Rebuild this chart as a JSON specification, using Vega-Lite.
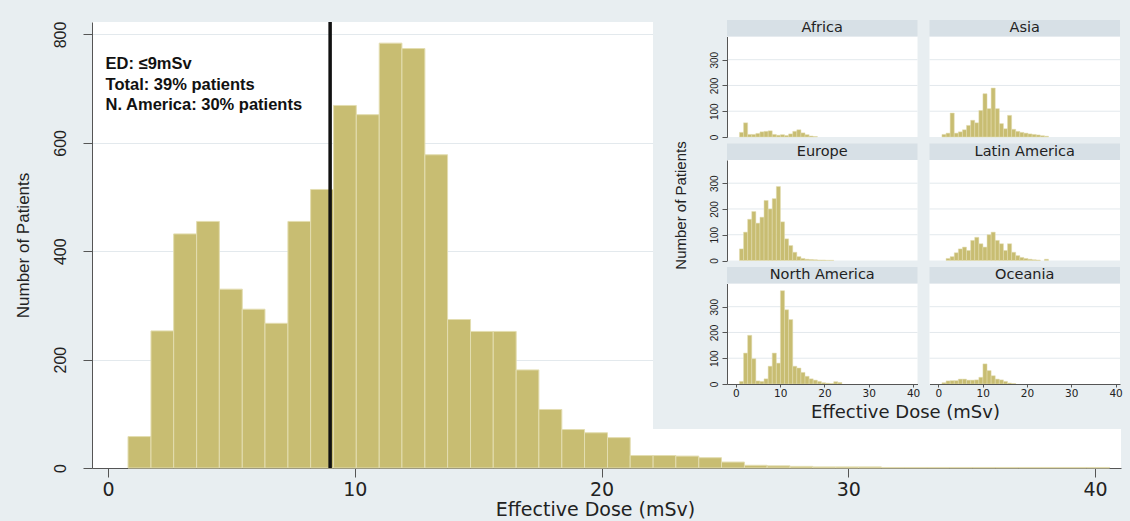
{
  "$schema": "https://vega.github.io/schema/vega-lite/v6.json",
  "width": 1029,
  "height": 446,
  "autosize": {"type": "none"},
  "padding": {"left": 92, "top": 22, "right": 9, "bottom": 53},
  "background": "#e8eef1",
  "config": {
    "view": {"fill": "white", "stroke": null},
    "axis": {"labelFlush": false, "labelOverlap": false, "labelBound": false, "titleFontWeight": "normal", "domainColor": "#555", "tickColor": "#555", "labelColor": "#222", "titleColor": "#222", "gridColor": "#e3e9ed"}
  },
  "datasets": {
    "total": [
      {"lo":0.81,"hi":1.74,"n":58},{"lo":1.74,"hi":2.66,"n":253},{"lo":2.66,"hi":3.59,"n":432},{"lo":3.59,"hi":4.51,"n":455},
      {"lo":4.51,"hi":5.44,"n":330},{"lo":5.44,"hi":6.36,"n":293},{"lo":6.36,"hi":7.29,"n":267},{"lo":7.29,"hi":8.21,"n":455},
      {"lo":8.21,"hi":9.14,"n":514},{"lo":9.14,"hi":10.06,"n":669},{"lo":10.06,"hi":10.99,"n":652},{"lo":10.99,"hi":11.91,"n":784},
      {"lo":11.91,"hi":12.84,"n":774},{"lo":12.84,"hi":13.76,"n":578},{"lo":13.76,"hi":14.69,"n":274},{"lo":14.69,"hi":15.61,"n":252},
      {"lo":15.61,"hi":16.54,"n":252},{"lo":16.54,"hi":17.46,"n":181},{"lo":17.46,"hi":18.39,"n":108},{"lo":18.39,"hi":19.31,"n":71},
      {"lo":19.31,"hi":20.24,"n":65},{"lo":20.24,"hi":21.16,"n":56},{"lo":21.16,"hi":22.09,"n":23},{"lo":22.09,"hi":23.01,"n":23},
      {"lo":23.01,"hi":23.94,"n":22},{"lo":23.94,"hi":24.86,"n":19},{"lo":24.86,"hi":25.79,"n":11},{"lo":25.79,"hi":26.71,"n":5},
      {"lo":26.71,"hi":27.64,"n":4},{"lo":27.64,"hi":28.56,"n":3},{"lo":28.56,"hi":29.49,"n":2},{"lo":29.49,"hi":30.41,"n":2},
      {"lo":30.41,"hi":31.34,"n":2},{"lo":31.34,"hi":32.26,"n":1},{"lo":32.26,"hi":33.19,"n":1},{"lo":33.19,"hi":34.11,"n":1},
      {"lo":34.11,"hi":35.04,"n":1},{"lo":35.04,"hi":35.96,"n":1},{"lo":35.96,"hi":36.89,"n":1},{"lo":36.89,"hi":37.81,"n":1},
      {"lo":37.81,"hi":38.74,"n":1},{"lo":38.74,"hi":39.66,"n":1},{"lo":39.66,"hi":40.59,"n":1}
    ],
    "grid": [{"g": 100}, {"g": 200}, {"g": 300}],
    "regions": [
      {"region":"Africa","lo":0.81,"hi":1.74,"n":18},{"region":"Africa","lo":1.74,"hi":2.66,"n":55},{"region":"Africa","lo":2.66,"hi":3.59,"n":10},
      {"region":"Africa","lo":3.59,"hi":4.51,"n":10},{"region":"Africa","lo":4.51,"hi":5.44,"n":14},{"region":"Africa","lo":5.44,"hi":6.36,"n":20},
      {"region":"Africa","lo":6.36,"hi":7.29,"n":22},{"region":"Africa","lo":7.29,"hi":8.21,"n":24},{"region":"Africa","lo":8.21,"hi":9.14,"n":10},
      {"region":"Africa","lo":9.14,"hi":10.06,"n":7},{"region":"Africa","lo":10.06,"hi":10.99,"n":9},{"region":"Africa","lo":10.99,"hi":11.91,"n":6},
      {"region":"Africa","lo":11.91,"hi":12.84,"n":12},{"region":"Africa","lo":12.84,"hi":13.76,"n":22},{"region":"Africa","lo":13.76,"hi":14.69,"n":28},
      {"region":"Africa","lo":14.69,"hi":15.61,"n":16},{"region":"Africa","lo":15.61,"hi":16.54,"n":9},{"region":"Africa","lo":16.54,"hi":17.46,"n":4},
      {"region":"Africa","lo":17.46,"hi":18.39,"n":2},

      {"region":"Asia","lo":0.81,"hi":1.74,"n":10},{"region":"Asia","lo":1.74,"hi":2.66,"n":15},{"region":"Asia","lo":2.66,"hi":3.59,"n":93},
      {"region":"Asia","lo":3.59,"hi":4.51,"n":15},{"region":"Asia","lo":4.51,"hi":5.44,"n":20},{"region":"Asia","lo":5.44,"hi":6.36,"n":28},
      {"region":"Asia","lo":6.36,"hi":7.29,"n":45},{"region":"Asia","lo":7.29,"hi":8.21,"n":65},{"region":"Asia","lo":8.21,"hi":9.14,"n":55},
      {"region":"Asia","lo":9.14,"hi":10.06,"n":103},{"region":"Asia","lo":10.06,"hi":10.99,"n":168},{"region":"Asia","lo":10.99,"hi":11.91,"n":110},
      {"region":"Asia","lo":11.91,"hi":12.84,"n":190},{"region":"Asia","lo":12.84,"hi":13.76,"n":110},{"region":"Asia","lo":13.76,"hi":14.69,"n":52},
      {"region":"Asia","lo":14.69,"hi":15.61,"n":32},{"region":"Asia","lo":15.61,"hi":16.54,"n":84},{"region":"Asia","lo":16.54,"hi":17.46,"n":30},
      {"region":"Asia","lo":17.46,"hi":18.39,"n":22},{"region":"Asia","lo":18.39,"hi":19.31,"n":18},{"region":"Asia","lo":19.31,"hi":20.24,"n":15},
      {"region":"Asia","lo":20.24,"hi":21.16,"n":12},{"region":"Asia","lo":21.16,"hi":22.09,"n":10},{"region":"Asia","lo":22.09,"hi":23.01,"n":8},
      {"region":"Asia","lo":23.01,"hi":23.94,"n":5},{"region":"Asia","lo":23.94,"hi":24.86,"n":3},

      {"region":"Europe","lo":0.81,"hi":1.74,"n":45},{"region":"Europe","lo":1.74,"hi":2.66,"n":110},{"region":"Europe","lo":2.66,"hi":3.59,"n":160},
      {"region":"Europe","lo":3.59,"hi":4.51,"n":190},{"region":"Europe","lo":4.51,"hi":5.44,"n":145},{"region":"Europe","lo":5.44,"hi":6.36,"n":168},
      {"region":"Europe","lo":6.36,"hi":7.29,"n":233},{"region":"Europe","lo":7.29,"hi":8.21,"n":200},{"region":"Europe","lo":8.21,"hi":9.14,"n":240},
      {"region":"Europe","lo":9.14,"hi":10.06,"n":287},{"region":"Europe","lo":10.06,"hi":10.99,"n":150},{"region":"Europe","lo":10.99,"hi":11.91,"n":84},
      {"region":"Europe","lo":11.91,"hi":12.84,"n":58},{"region":"Europe","lo":12.84,"hi":13.76,"n":32},{"region":"Europe","lo":13.76,"hi":14.69,"n":15},
      {"region":"Europe","lo":14.69,"hi":15.61,"n":8},{"region":"Europe","lo":15.61,"hi":16.54,"n":5},{"region":"Europe","lo":16.54,"hi":17.46,"n":4},
      {"region":"Europe","lo":17.46,"hi":18.39,"n":3},{"region":"Europe","lo":18.39,"hi":19.31,"n":2},{"region":"Europe","lo":19.31,"hi":20.24,"n":2},
      {"region":"Europe","lo":20.24,"hi":21.16,"n":1},{"region":"Europe","lo":21.16,"hi":22.09,"n":1},

      {"region":"Latin America","lo":1.74,"hi":2.66,"n":8},{"region":"Latin America","lo":2.66,"hi":3.59,"n":15},{"region":"Latin America","lo":3.59,"hi":4.51,"n":30},
      {"region":"Latin America","lo":4.51,"hi":5.44,"n":45},{"region":"Latin America","lo":5.44,"hi":6.36,"n":52},{"region":"Latin America","lo":6.36,"hi":7.29,"n":39},
      {"region":"Latin America","lo":7.29,"hi":8.21,"n":78},{"region":"Latin America","lo":8.21,"hi":9.14,"n":90},{"region":"Latin America","lo":9.14,"hi":10.06,"n":65},
      {"region":"Latin America","lo":10.06,"hi":10.99,"n":52},{"region":"Latin America","lo":10.99,"hi":11.91,"n":100},{"region":"Latin America","lo":11.91,"hi":12.84,"n":110},
      {"region":"Latin America","lo":12.84,"hi":13.76,"n":78},{"region":"Latin America","lo":13.76,"hi":14.69,"n":65},{"region":"Latin America","lo":14.69,"hi":15.61,"n":39},
      {"region":"Latin America","lo":15.61,"hi":16.54,"n":65},{"region":"Latin America","lo":16.54,"hi":17.46,"n":32},{"region":"Latin America","lo":17.46,"hi":18.39,"n":19},
      {"region":"Latin America","lo":18.39,"hi":19.31,"n":12},{"region":"Latin America","lo":19.31,"hi":20.24,"n":8},{"region":"Latin America","lo":20.24,"hi":21.16,"n":5},
      {"region":"Latin America","lo":21.16,"hi":22.09,"n":3},{"region":"Latin America","lo":22.09,"hi":23.01,"n":2},{"region":"Latin America","lo":23.94,"hi":24.86,"n":5},

      {"region":"North America","lo":0.81,"hi":1.74,"n":10},{"region":"North America","lo":1.74,"hi":2.66,"n":120},{"region":"North America","lo":2.66,"hi":3.59,"n":189},
      {"region":"North America","lo":3.59,"hi":4.51,"n":98},{"region":"North America","lo":4.51,"hi":5.44,"n":12},{"region":"North America","lo":5.44,"hi":6.36,"n":10},
      {"region":"North America","lo":6.36,"hi":7.29,"n":20},{"region":"North America","lo":7.29,"hi":8.21,"n":69},{"region":"North America","lo":8.21,"hi":9.14,"n":120},
      {"region":"North America","lo":9.14,"hi":10.06,"n":81},{"region":"North America","lo":10.06,"hi":10.99,"n":362},{"region":"North America","lo":10.99,"hi":11.91,"n":288},
      {"region":"North America","lo":11.91,"hi":12.84,"n":250},{"region":"North America","lo":12.84,"hi":13.76,"n":69},{"region":"North America","lo":13.76,"hi":14.69,"n":62},
      {"region":"North America","lo":14.69,"hi":15.61,"n":45},{"region":"North America","lo":15.61,"hi":16.54,"n":30},{"region":"North America","lo":16.54,"hi":17.46,"n":20},
      {"region":"North America","lo":17.46,"hi":18.39,"n":15},{"region":"North America","lo":18.39,"hi":19.31,"n":10},{"region":"North America","lo":19.31,"hi":20.24,"n":5},
      {"region":"North America","lo":20.24,"hi":21.16,"n":3},{"region":"North America","lo":21.16,"hi":22.09,"n":2},{"region":"North America","lo":22.09,"hi":23.01,"n":9},
      {"region":"North America","lo":23.01,"hi":23.94,"n":6},

      {"region":"Oceania","lo":0.81,"hi":1.74,"n":5},{"region":"Oceania","lo":1.74,"hi":2.66,"n":12},{"region":"Oceania","lo":2.66,"hi":3.59,"n":13},
      {"region":"Oceania","lo":3.59,"hi":4.51,"n":13},{"region":"Oceania","lo":4.51,"hi":5.44,"n":19},{"region":"Oceania","lo":5.44,"hi":6.36,"n":19},
      {"region":"Oceania","lo":6.36,"hi":7.29,"n":15},{"region":"Oceania","lo":7.29,"hi":8.21,"n":15},{"region":"Oceania","lo":8.21,"hi":9.14,"n":16},
      {"region":"Oceania","lo":9.14,"hi":10.06,"n":26},{"region":"Oceania","lo":10.06,"hi":10.99,"n":78},{"region":"Oceania","lo":10.99,"hi":11.91,"n":52},
      {"region":"Oceania","lo":11.91,"hi":12.84,"n":32},{"region":"Oceania","lo":12.84,"hi":13.76,"n":19},{"region":"Oceania","lo":13.76,"hi":14.69,"n":16},
      {"region":"Oceania","lo":14.69,"hi":15.61,"n":10},{"region":"Oceania","lo":15.61,"hi":16.54,"n":4},{"region":"Oceania","lo":16.54,"hi":17.46,"n":2}
    ]
  },
  "resolve": {"scale": {"x": "independent", "y": "independent"}, "axis": {"x": "independent", "y": "independent"}},
  "layer": [
    {
      "layer": [
        {
          "data": {"name": "total"},
          "mark": {"type": "rect", "fill": "#c8bd72", "stroke": "#e3ddb0", "strokeWidth": 1},
          "encoding": {
            "x": {"field": "lo", "type": "quantitative", "scale": {"domain": [-0.65, 41.05], "nice": false, "zero": false},
                  "axis": {"orient": "bottom", "values": [0, 10, 20, 30, 40], "grid": false, "tickSize": 9, "labelFont": "DejaVu Sans", "labelFontSize": 19, "labelPadding": 3, "title": "Effective Dose (mSv)", "titleFont": "DejaVu Sans", "titleFontSize": 19, "titlePadding": 1, "titleX": 503, "titleAlign": "center"}},
            "x2": {"field": "hi"},
            "y": {"field": "n", "type": "quantitative", "scale": {"domain": [0, 823], "nice": false, "zero": false},
                  "axis": {"orient": "left", "values": [0, 200, 400, 600, 800], "grid": true, "tickSize": 9, "labelAngle": 270, "labelAlign": "center", "labelBaseline": "bottom", "labelFont": "Liberation Sans", "labelFontSize": 16, "labelPadding": 15, "title": "Number of Patients", "titleFont": "Liberation Sans", "titleFontSize": 17, "titlePadding": 20}},
            "y2": {"datum": 0}
          }
        },
        {
          "data": {"values": [{}]},
          "mark": {"type": "rule", "color": "#111", "strokeWidth": 3.5},
          "encoding": {"x": {"datum": 9, "type": "quantitative"}}
        },
        {
          "data": {"values": [{}]},
          "mark": {"type": "text", "text": ["ED: ≤9mSv", "Total: 39% patients", "N. America: 30% patients"], "align": "left", "baseline": "top", "font": "Liberation Sans", "fontSize": 16.5, "fontWeight": "bold", "lineHeight": 20.5, "color": "#111"},
          "encoding": {"x": {"datum": -0.1, "type": "quantitative"}, "y": {"datum": 760, "type": "quantitative"}}
        }
      ]
    },
    {
      "data": {"values": [{}]},
      "mark": {"type": "rect", "fill": "#e8eef1"},
      "encoding": {
        "x": {"datum": 0, "type": "quantitative", "scale": {"domain": [0, 1], "range": [561, 1038], "nice": false, "zero": false}, "axis": null},
        "x2": {"datum": 1},
        "y": {"datum": 0, "type": "quantitative", "scale": {"domain": [0, 1], "range": [407, -15], "nice": false, "zero": false}, "axis": null},
        "y2": {"datum": 1}
      }
    },
    {
      "data": {"values": []},
      "mark": {"type": "point", "opacity": 0},
      "encoding": {
        "x": {"field": "v", "type": "quantitative", "scale": {"domain": [0, 1], "range": [600, 1026], "nice": false, "zero": false},
              "axis": {"orient": "bottom", "offset": -84, "labels": false, "ticks": false, "domain": false, "grid": false, "minExtent": 0, "maxExtent": 0, "title": "Effective Dose (mSv)", "titleFont": "DejaVu Sans", "titleFontSize": 18, "titlePadding": 19, "zindex": 1}},
        "y": {"field": "v", "type": "quantitative", "scale": {"domain": [0, 1], "range": [362, 4], "nice": false, "zero": false},
              "axis": {"orient": "left", "offset": -635, "labels": false, "ticks": false, "domain": false, "grid": false, "minExtent": 0, "maxExtent": 0, "title": "Number of Patients", "titleFont": "Liberation Sans", "titleFontSize": 15, "titlePadding": 39, "zindex": 1}}
      }
    },
    {
      "layer": [
        {"data": {"values": [{}]}, "mark": {"type": "rect", "fill": "white"},
         "encoding": {
           "x": {"datum": -2, "type": "quantitative", "scale": {"domain": [-2, 41], "range": [635, 825.5], "nice": false, "zero": false}, "axis": null},
           "x2": {"datum": 41},
           "y": {"datum": 0, "type": "quantitative", "scale": {"domain": [0, 390], "range": [115, 14.5], "nice": false, "zero": false}, "axis": null},
           "y2": {"datum": 390}}},
        {"data": {"name": "grid"}, "mark": {"type": "rule", "color": "#e3e9ed", "strokeWidth": 1},
         "encoding": {"x": {"datum": -2, "type": "quantitative", "axis": null}, "x2": {"datum": 41}, "y": {"field": "g", "type": "quantitative", "axis": null}}},
        {"data": {"values": [{}]}, "mark": {"type": "rect", "fill": "#d7e0e6"},
         "encoding": {"x": {"datum": -2, "type": "quantitative", "axis": null}, "x2": {"datum": 41}, "y": {"datum": 390, "type": "quantitative", "axis": null}, "y2": {"datum": 454}}},
        {"data": {"values": [{}]}, "mark": {"type": "text", "text": "Africa", "font": "DejaVu Sans", "fontSize": 14.5, "color": "#222", "align": "center", "baseline": "middle"},
         "encoding": {"x": {"datum": 19.5, "type": "quantitative", "axis": null}, "y": {"datum": 422, "type": "quantitative", "axis": null}}},
        {"data": {"name": "regions"}, "transform": [{"filter": {"field": "region", "equal": "Africa"}}],
         "mark": {"type": "rect", "fill": "#c8bd72", "stroke": "#e3ddb0", "strokeWidth": 0.5},
         "encoding": {"x": {"field": "lo", "type": "quantitative", "axis": null}, "x2": {"field": "hi"}, "y": {"field": "n", "type": "quantitative", "axis": null}, "y2": {"datum": 0}}}
      ]
    },
    {
      "layer": [
        {"data": {"values": [{}]}, "mark": {"type": "rect", "fill": "white"},
         "encoding": {
           "x": {"datum": -2, "type": "quantitative", "scale": {"domain": [-2, 41], "range": [837.5, 1028], "nice": false, "zero": false}, "axis": null},
           "x2": {"datum": 41},
           "y": {"datum": 0, "type": "quantitative", "scale": {"domain": [0, 390], "range": [115, 14.5], "nice": false, "zero": false}, "axis": null},
           "y2": {"datum": 390}}},
        {"data": {"name": "grid"}, "mark": {"type": "rule", "color": "#e3e9ed", "strokeWidth": 1},
         "encoding": {"x": {"datum": -2, "type": "quantitative", "axis": null}, "x2": {"datum": 41}, "y": {"field": "g", "type": "quantitative", "axis": null}}},
        {"data": {"values": [{}]}, "mark": {"type": "rect", "fill": "#d7e0e6"},
         "encoding": {"x": {"datum": -2, "type": "quantitative", "axis": null}, "x2": {"datum": 41}, "y": {"datum": 390, "type": "quantitative", "axis": null}, "y2": {"datum": 454}}},
        {"data": {"values": [{}]}, "mark": {"type": "text", "text": "Asia", "font": "DejaVu Sans", "fontSize": 14.5, "color": "#222", "align": "center", "baseline": "middle"},
         "encoding": {"x": {"datum": 19.5, "type": "quantitative", "axis": null}, "y": {"datum": 422, "type": "quantitative", "axis": null}}},
        {"data": {"name": "regions"}, "transform": [{"filter": {"field": "region", "equal": "Asia"}}],
         "mark": {"type": "rect", "fill": "#c8bd72", "stroke": "#e3ddb0", "strokeWidth": 0.5},
         "encoding": {"x": {"field": "lo", "type": "quantitative", "axis": null}, "x2": {"field": "hi"}, "y": {"field": "n", "type": "quantitative", "axis": null}, "y2": {"datum": 0}}}
      ]
    },
    {
      "layer": [
        {"data": {"values": [{}]}, "mark": {"type": "rect", "fill": "white"},
         "encoding": {
           "x": {"datum": -2, "type": "quantitative", "scale": {"domain": [-2, 41], "range": [635, 825.5], "nice": false, "zero": false}, "axis": null},
           "x2": {"datum": 41},
           "y": {"datum": 0, "type": "quantitative", "scale": {"domain": [0, 390], "range": [238.5, 138], "nice": false, "zero": false}, "axis": null},
           "y2": {"datum": 390}}},
        {"data": {"name": "grid"}, "mark": {"type": "rule", "color": "#e3e9ed", "strokeWidth": 1},
         "encoding": {"x": {"datum": -2, "type": "quantitative", "axis": null}, "x2": {"datum": 41}, "y": {"field": "g", "type": "quantitative", "axis": null}}},
        {"data": {"values": [{}]}, "mark": {"type": "rect", "fill": "#d7e0e6"},
         "encoding": {"x": {"datum": -2, "type": "quantitative", "axis": null}, "x2": {"datum": 41}, "y": {"datum": 390, "type": "quantitative", "axis": null}, "y2": {"datum": 454}}},
        {"data": {"values": [{}]}, "mark": {"type": "text", "text": "Europe", "font": "DejaVu Sans", "fontSize": 14.5, "color": "#222", "align": "center", "baseline": "middle"},
         "encoding": {"x": {"datum": 19.5, "type": "quantitative", "axis": null}, "y": {"datum": 422, "type": "quantitative", "axis": null}}},
        {"data": {"name": "regions"}, "transform": [{"filter": {"field": "region", "equal": "Europe"}}],
         "mark": {"type": "rect", "fill": "#c8bd72", "stroke": "#e3ddb0", "strokeWidth": 0.5},
         "encoding": {"x": {"field": "lo", "type": "quantitative", "axis": null}, "x2": {"field": "hi"}, "y": {"field": "n", "type": "quantitative", "axis": null}, "y2": {"datum": 0}}}
      ]
    },
    {
      "layer": [
        {"data": {"values": [{}]}, "mark": {"type": "rect", "fill": "white"},
         "encoding": {
           "x": {"datum": -2, "type": "quantitative", "scale": {"domain": [-2, 41], "range": [837.5, 1028], "nice": false, "zero": false}, "axis": null},
           "x2": {"datum": 41},
           "y": {"datum": 0, "type": "quantitative", "scale": {"domain": [0, 390], "range": [238.5, 138], "nice": false, "zero": false}, "axis": null},
           "y2": {"datum": 390}}},
        {"data": {"name": "grid"}, "mark": {"type": "rule", "color": "#e3e9ed", "strokeWidth": 1},
         "encoding": {"x": {"datum": -2, "type": "quantitative", "axis": null}, "x2": {"datum": 41}, "y": {"field": "g", "type": "quantitative", "axis": null}}},
        {"data": {"values": [{}]}, "mark": {"type": "rect", "fill": "#d7e0e6"},
         "encoding": {"x": {"datum": -2, "type": "quantitative", "axis": null}, "x2": {"datum": 41}, "y": {"datum": 390, "type": "quantitative", "axis": null}, "y2": {"datum": 454}}},
        {"data": {"values": [{}]}, "mark": {"type": "text", "text": "Latin America", "font": "DejaVu Sans", "fontSize": 14.5, "color": "#222", "align": "center", "baseline": "middle"},
         "encoding": {"x": {"datum": 19.5, "type": "quantitative", "axis": null}, "y": {"datum": 422, "type": "quantitative", "axis": null}}},
        {"data": {"name": "regions"}, "transform": [{"filter": {"field": "region", "equal": "Latin America"}}],
         "mark": {"type": "rect", "fill": "#c8bd72", "stroke": "#e3ddb0", "strokeWidth": 0.5},
         "encoding": {"x": {"field": "lo", "type": "quantitative", "axis": null}, "x2": {"field": "hi"}, "y": {"field": "n", "type": "quantitative", "axis": null}, "y2": {"datum": 0}}}
      ]
    },
    {
      "layer": [
        {"data": {"values": [{}]}, "mark": {"type": "rect", "fill": "white"},
         "encoding": {
           "x": {"datum": -2, "type": "quantitative", "scale": {"domain": [-2, 41], "range": [635, 825.5], "nice": false, "zero": false}, "axis": null},
           "x2": {"datum": 41},
           "y": {"datum": 0, "type": "quantitative", "scale": {"domain": [0, 390], "range": [362, 261.5], "nice": false, "zero": false}, "axis": null},
           "y2": {"datum": 390}}},
        {"data": {"name": "grid"}, "mark": {"type": "rule", "color": "#e3e9ed", "strokeWidth": 1},
         "encoding": {"x": {"datum": -2, "type": "quantitative", "axis": null}, "x2": {"datum": 41}, "y": {"field": "g", "type": "quantitative", "axis": null}}},
        {"data": {"values": [{}]}, "mark": {"type": "rect", "fill": "#d7e0e6"},
         "encoding": {"x": {"datum": -2, "type": "quantitative", "axis": null}, "x2": {"datum": 41}, "y": {"datum": 390, "type": "quantitative", "axis": null}, "y2": {"datum": 454}}},
        {"data": {"values": [{}]}, "mark": {"type": "text", "text": "North America", "font": "DejaVu Sans", "fontSize": 14.5, "color": "#222", "align": "center", "baseline": "middle"},
         "encoding": {"x": {"datum": 19.5, "type": "quantitative", "axis": null}, "y": {"datum": 422, "type": "quantitative", "axis": null}}},
        {"data": {"name": "regions"}, "transform": [{"filter": {"field": "region", "equal": "North America"}}],
         "mark": {"type": "rect", "fill": "#c8bd72", "stroke": "#e3ddb0", "strokeWidth": 0.5},
         "encoding": {"x": {"field": "lo", "type": "quantitative", "axis": null}, "x2": {"field": "hi"}, "y": {"field": "n", "type": "quantitative", "axis": null}, "y2": {"datum": 0}}}
      ]
    },
    {
      "layer": [
        {"data": {"values": [{}]}, "mark": {"type": "rect", "fill": "white"},
         "encoding": {
           "x": {"datum": -2, "type": "quantitative", "scale": {"domain": [-2, 41], "range": [837.5, 1028], "nice": false, "zero": false}, "axis": null},
           "x2": {"datum": 41},
           "y": {"datum": 0, "type": "quantitative", "scale": {"domain": [0, 390], "range": [362, 261.5], "nice": false, "zero": false}, "axis": null},
           "y2": {"datum": 390}}},
        {"data": {"name": "grid"}, "mark": {"type": "rule", "color": "#e3e9ed", "strokeWidth": 1},
         "encoding": {"x": {"datum": -2, "type": "quantitative", "axis": null}, "x2": {"datum": 41}, "y": {"field": "g", "type": "quantitative", "axis": null}}},
        {"data": {"values": [{}]}, "mark": {"type": "rect", "fill": "#d7e0e6"},
         "encoding": {"x": {"datum": -2, "type": "quantitative", "axis": null}, "x2": {"datum": 41}, "y": {"datum": 390, "type": "quantitative", "axis": null}, "y2": {"datum": 454}}},
        {"data": {"values": [{}]}, "mark": {"type": "text", "text": "Oceania", "font": "DejaVu Sans", "fontSize": 14.5, "color": "#222", "align": "center", "baseline": "middle"},
         "encoding": {"x": {"datum": 19.5, "type": "quantitative", "axis": null}, "y": {"datum": 422, "type": "quantitative", "axis": null}}},
        {"data": {"name": "regions"}, "transform": [{"filter": {"field": "region", "equal": "Oceania"}}],
         "mark": {"type": "rect", "fill": "#c8bd72", "stroke": "#e3ddb0", "strokeWidth": 0.5},
         "encoding": {"x": {"field": "lo", "type": "quantitative", "axis": null}, "x2": {"field": "hi"}, "y": {"field": "n", "type": "quantitative", "axis": null}, "y2": {"datum": 0}}}
      ]
    },
    {
      "data": {"values": []},
      "mark": {"type": "point", "opacity": 0},
      "encoding": {
        "x": {"field": "v", "type": "quantitative", "scale": {"domain": [-2, 41], "range": [635, 825.5], "nice": false, "zero": false},
              "axis": {"orient": "bottom", "offset": -84, "values": [0, 10, 20, 30, 40], "grid": false, "tickSize": 3, "labelFont": "DejaVu Sans", "labelFontSize": 10.5, "labelPadding": 1, "title": null, "zindex": 1}},
        "y": {"field": "v", "type": "quantitative", "scale": {"domain": [0, 390], "range": [115, 14.5], "nice": false, "zero": false},
              "axis": {"orient": "left", "offset": -635, "values": [0, 100, 200, 300], "grid": false, "tickSize": 5, "labelAngle": 270, "labelAlign": "center", "labelBaseline": "bottom", "labelFont": "Liberation Sans", "labelFontSize": 10, "labelPadding": 3, "title": null, "zindex": 1}}
      }
    },
    {
      "data": {"values": []},
      "mark": {"type": "point", "opacity": 0},
      "encoding": {
        "x": {"field": "v", "type": "quantitative", "scale": {"domain": [-2, 41], "range": [837.5, 1028], "nice": false, "zero": false},
              "axis": {"orient": "bottom", "offset": -84, "values": [0, 10, 20, 30, 40], "grid": false, "tickSize": 3, "labelFont": "DejaVu Sans", "labelFontSize": 10.5, "labelPadding": 1, "title": null, "zindex": 1}},
        "y": {"field": "v", "type": "quantitative", "scale": {"domain": [0, 390], "range": [238.5, 138], "nice": false, "zero": false},
              "axis": {"orient": "left", "offset": -635, "values": [0, 100, 200, 300], "grid": false, "tickSize": 5, "labelAngle": 270, "labelAlign": "center", "labelBaseline": "bottom", "labelFont": "Liberation Sans", "labelFontSize": 10, "labelPadding": 3, "title": null, "zindex": 1}}
      }
    },
    {
      "data": {"values": []},
      "mark": {"type": "point", "opacity": 0},
      "encoding": {
        "x": {"field": "v", "type": "quantitative", "scale": {"domain": [-2, 41], "range": [635, 825.5], "nice": false, "zero": false}, "axis": null},
        "y": {"field": "v", "type": "quantitative", "scale": {"domain": [0, 390], "range": [362, 261.5], "nice": false, "zero": false},
              "axis": {"orient": "left", "offset": -635, "values": [0, 100, 200, 300], "grid": false, "tickSize": 5, "labelAngle": 270, "labelAlign": "center", "labelBaseline": "bottom", "labelFont": "Liberation Sans", "labelFontSize": 10, "labelPadding": 3, "title": null, "zindex": 1}}
      }
    }
  ]
}
